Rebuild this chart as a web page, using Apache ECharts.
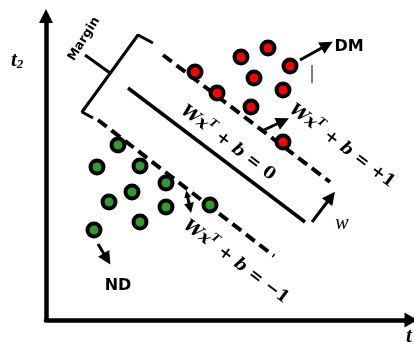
<!DOCTYPE html>
<html><head><meta charset="utf-8">
<script src="https://cdn.jsdelivr.net/npm/echarts@6/dist/echarts.min.js"></script>
<style>html,body{margin:0;padding:0;background:#fff}#c{width:414px;height:348px}</style>
</head><body><div id="c"></div>
<script>
// Coordinates in the chart's own units (origin at the axes' corner)
const redPoints = [[149,248],[195,263],[222,272],[244,254],[208,242],[237,230],[171,227],[205,213],[237,178]];
const greenPoints = [[72,175],[51,153],[94,154],[120,137],[86,128],[63,118],[120,113],[94,98],[48,90],[164,115]];
const hyperplane = [[82,232],[259,98]];
const plusOneLine = [[117,265],[284,138]];
const minusOneLine = [[52,200],[228,64]];
const marginBracket = [[107,277],[92,285],[36,208],[47,202]];
const marginTick = [[64,247],[39,265]];
const arrowDM = [[254,260],[281,275]];
const arrowUpper = [[216,189],[237,199]];
const arrowND = [[52,76],[61,61]];
const arrowLower = [[141,126],[144,112]];
const arrowW = [[266,98],[285,123]];
const smallTick = [[266,255],[266,237]];
const eqZeroPos = [182,177];
const eqPlusPos = [296,174];
const eqMinusPos = [190,58];
const marginPos = [38,281];
const dmPos = [303,273];
const ndPos = [72,34];
const wPos = [296,96];
const eqZeroText = '{i|Wx}{s|T}{n| + }{i|b}{n| = 0}';
const eqPlusText = '{i|Wx}{s|T}{n| + }{i|b}{n| = +1}';
const eqMinusText = '{i|Wx}{s|T}{n| + }{i|b}{n| = −1}';

const chart = echarts.init(document.getElementById('c'));
const black = '#000';
const eqRich = {
  i: {fontFamily: 'DejaVu Serif', fontStyle: 'italic', fontWeight: 'bold', fontSize: 17, lineHeight: 24, color: black},
  n: {fontFamily: 'DejaVu Serif', fontWeight: 'bold', fontSize: 17, lineHeight: 24, color: black},
  s: {fontFamily: 'DejaVu Serif', fontStyle: 'italic', fontWeight: 'bold', fontSize: 11, lineHeight: 14, verticalAlign: 'top', color: black}
};
function lineSeries(data, width, type) {
  return {type: 'line', data: data, symbol: 'none', silent: true, z: 2,
    lineStyle: {color: black, width: width, type: type || 'solid', cap: 'butt'}};
}
function textItem(pos, text, rotate, style) {
  return {value: pos, label: Object.assign({show: true, formatter: text, rotate: rotate, position: 'inside',
    color: black, opacity: 1, textBorderWidth: 0}, style)};
}
const arrowData = [arrowDM, arrowUpper, arrowND, arrowW].map(c => ({coords: c}));

chart.setOption({
  animation: false,
  grid: {left: 46, right: 3, top: 16, bottom: 28},
  xAxis: {type: 'value', min: 0, max: 365,
    axisLine: {show: true, onZero: false, symbol: ['none','triangle'], symbolSize: [15,13], lineStyle: {color: black, width: 4.5}},
    axisTick: {show: false}, axisLabel: {show: false}, splitLine: {show: false}},
  yAxis: {type: 'value', min: 0, max: 304,
    axisLine: {show: true, onZero: false, symbol: ['none','triangle'], symbolSize: [14,14], lineStyle: {color: black, width: 4.5}},
    axisTick: {show: false}, axisLabel: {show: false}, splitLine: {show: false}},
  graphic: [
    {type: 'text', left: 11, top: 50, style: {text: '{t|t}{s|2}', fill: black, rich: {
      t: {fontFamily: 'Liberation Serif', fontStyle: 'italic', fontWeight: 'bold', fontSize: 21, lineHeight: 20, verticalAlign: 'bottom'},
      s: {fontFamily: 'Liberation Serif', fontStyle: 'italic', fontWeight: 'bold', fontSize: 13, lineHeight: 14, verticalAlign: 'bottom'}}}},
    {type: 'text', left: 406, top: 326, style: {text: 't', fill: black, fontFamily: 'Liberation Serif', fontStyle: 'italic', fontWeight: 'bold', fontSize: 21}}
  ],
  series: [
    lineSeries(hyperplane, 3.5),
    lineSeries(plusOneLine, 4, [11,6]),
    lineSeries(minusOneLine, 4, [11,6]),
    lineSeries(marginBracket, 3),
    lineSeries(marginTick, 3),
    lineSeries(smallTick, 1),
    {type: 'lines', coordinateSystem: 'cartesian2d', silent: true, z: 3,
      symbol: ['none','triangle'], symbolSize: 13,
      lineStyle: {color: black, width: 3, opacity: 1}, data: arrowData},
    {type: 'lines', coordinateSystem: 'cartesian2d', silent: true, z: 3,
      symbol: ['triangle','triangle'], symbolSize: [7,10],
      lineStyle: {color: black, width: 3, opacity: 1}, data: [{coords: arrowLower}]},
    {type: 'scatter', data: redPoints, symbolSize: 13, z: 5, silent: true,
      itemStyle: {color: '#ff0000', borderColor: black, borderWidth: 4, opacity: 1}},
    {type: 'scatter', data: greenPoints, symbolSize: 13, z: 5, silent: true,
      itemStyle: {color: '#2e9c30', borderColor: black, borderWidth: 4, opacity: 1}},
    {type: 'scatter', symbol: 'circle', symbolSize: 1, z: 6, silent: true,
      itemStyle: {color: 'rgba(0,0,0,0)', borderWidth: 0, opacity: 1},
      data: [
        textItem(eqZeroPos, eqZeroText, -37, {rich: eqRich}),
        textItem(eqPlusPos, eqPlusText, -37, {rich: eqRich}),
        textItem(eqMinusPos, eqMinusText, -37, {rich: eqRich}),
        textItem(marginPos, 'Margin', 58, {fontFamily: 'DejaVu Sans', fontWeight: 'bold', fontSize: 12.5}),
        textItem(dmPos, 'DM', 0, {fontFamily: 'DejaVu Sans', fontWeight: 'bold', fontSize: 16}),
        textItem(ndPos, 'ND', 0, {fontFamily: 'DejaVu Sans', fontWeight: 'bold', fontSize: 16}),
        textItem(wPos, 'w', 0, {fontFamily: 'Liberation Serif', fontStyle: 'italic', fontSize: 20})
      ]}
  ]
});
</script></body></html>
